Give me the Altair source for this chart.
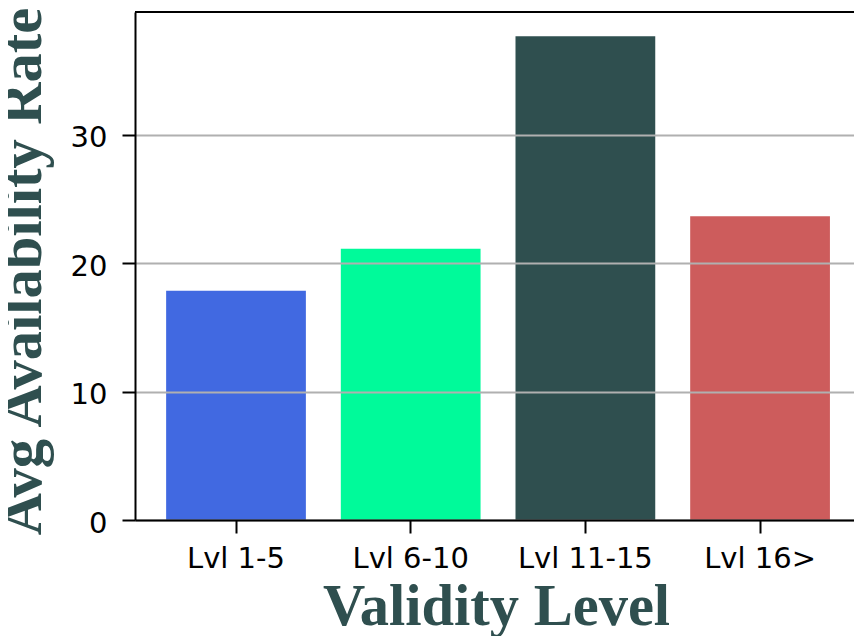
import altair as alt
import pandas as pd

levels = ["Lvl 1-5", "Lvl 6-10", "Lvl 11-15", "Lvl 16>"]
rates = [17.85, 21.13, 37.68, 23.65]
bar_colors = ["#4169E1", "#00FA9A", "#2F4F4F", "#CD5C5C"]
y_ticks = [0, 10, 20, 30]
y_max = 39.56

df = pd.DataFrame({"level": levels, "rate": rates})

W, H = 719, 508
title_color = "#2F4F4F"

bars = alt.Chart(df).mark_bar().encode(
    x=alt.X(
        "level:N",
        sort=levels,
        scale=alt.Scale(paddingInner=0.2, paddingOuter=0.158, align=0.564, round=False),
        axis=alt.Axis(
            title="Validity Level",
            labelAngle=0,
            labelFont="DejaVu Sans",
            labelFontSize=29,
            labelColor="#000000",
            labelAlign="center",
            labelBaseline="alphabetic",
            labelPadding=34,
            labelOverlap=False,
            tickSize=13,
            tickWidth=2,
            tickColor="#000000",
            domainColor="#000000",
            domainWidth=2,
            grid=False,
            titleFont="Liberation Serif",
            titleFontWeight="bold",
            titleFontSize=58.5,
            titleColor=title_color,
            titleX=361,
            titleY=104,
            titleAlign="center",
            titleBaseline="alphabetic",
            zindex=1,
        ),
    ),
    y=alt.Y(
        "rate:Q",
        scale=alt.Scale(domain=[0, y_max], nice=False, zero=True),
        axis=alt.Axis(
            title="Avg Availability Rate",
            values=y_ticks,
            labelFont="DejaVu Sans",
            labelFontSize=29,
            labelColor="#000000",
            labelAlign="right",
            labelBaseline="alphabetic",
            labelOffset=12,
            labelPadding=15,
            tickSize=13,
            tickWidth=2,
            tickColor="#000000",
            domainColor="#000000",
            domainWidth=2,
            grid=True,
            gridColor="#b0b0b0",
            gridWidth=2,
            titleFont="Liberation Serif",
            titleFontWeight="bold",
            titleFontSize=58.5,
            titleColor=title_color,
            titleAngle=270,
            titleX=-95,
            titleY=259,
            titleAlign="center",
            titleBaseline="alphabetic",
            zindex=1,
        ),
    ),
    color=alt.Color(
        "level:N",
        scale=alt.Scale(domain=levels, range=bar_colors),
        legend=None,
    ),
)

top_spine = alt.Chart(df).mark_rule(color="#000000", strokeWidth=2).encode(
    x=alt.value(0), x2=alt.value(W), y=alt.value(0)
)

chart = (
    alt.layer(bars, top_spine)
    .properties(
        width=W,
        height=H,
        autosize=alt.AutoSizeParams(type="none"),
        padding={"left": 127, "top": 4, "right": 0, "bottom": 116},
        background="#ffffff",
    )
    .configure_view(strokeWidth=0)
)

chart.save("out.html", embed_options={"renderer": "svg", "actions": False})
